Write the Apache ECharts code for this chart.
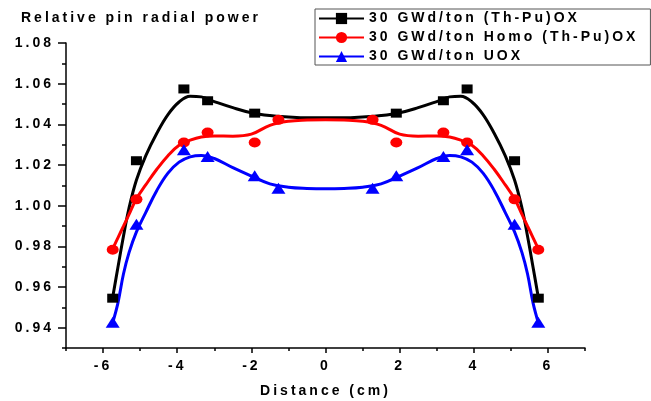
<!DOCTYPE html>
<html>
<head>
<meta charset="utf-8">
<title>Relative pin radial power</title>
<script src="https://cdn.jsdelivr.net/npm/echarts@6.0.0/dist/echarts.min.js"></script>
<style>
  html, body { margin: 0; padding: 0; background: #fff; }
  #main { width: 651px; height: 401px; }
</style>
</head>
<body>
<div id="main"></div>
<script>
// marker positions (cm) and values
const pinDistance = [-5.74, -5.10, -3.82, -3.18, -1.91, -1.27, 1.27, 1.91, 3.18, 3.82, 5.10, 5.74]
const thpuDistance = [-5.74, -5.10, -3.82, -3.18, -1.91, 1.91, 3.18, 3.82, 5.10, 5.74]
const thpuPower = [0.9545, 1.0221, 1.0574, 1.0516, 1.0455, 1.0455, 1.0516, 1.0574, 1.0221, 0.9545]
const homoPower = [0.9783, 1.0031, 1.0311, 1.0360, 1.0311, 1.0422, 1.0422, 1.0311, 1.0360, 1.0311, 1.0031, 0.9783]
const uoxPower = [0.9427, 0.9909, 1.0275, 1.0242, 1.0147, 1.0086, 1.0086, 1.0147, 1.0242, 1.0275, 0.9909, 0.9427]

// fitted curves
const curveDistance = [-5.74, -5.6, -5.45, -5.3, -5.1, -4.85, -4.55, -4.25, -3.95, -3.65, -3.35, -3.0, -2.5, -2.0, -1.5, -1.0, -0.5, 0,
  0.5, 1.0, 1.5, 2.0, 2.5, 3.0, 3.35, 3.65, 3.95, 4.25, 4.55, 4.85, 5.1, 5.3, 5.45, 5.6, 5.74]
const thpuCurve = [0.955, 0.9696, 0.985, 0.9988, 1.0126, 1.0245, 1.0356, 1.0448, 1.0510, 1.0538, 1.0535, 1.0512, 1.0482, 1.0457, 1.0443, 1.0436, 1.0432, 1.0432,
  1.0432, 1.0436, 1.0443, 1.0457, 1.0482, 1.0512, 1.0535, 1.0538, 1.0510, 1.0448, 1.0356, 1.0245, 1.0126, 0.9988, 0.985, 0.9696, 0.955]
const homoCurve = [0.9788, 0.9842, 0.9899, 0.9957, 1.0034, 1.0102, 1.0179, 1.0246, 1.0297, 1.0322, 1.0338, 1.0343, 1.0342, 1.0352, 1.0395, 1.0415, 1.0421, 1.0423,
  1.0421, 1.0415, 1.0395, 1.0352, 1.0342, 1.0343, 1.0338, 1.0322, 1.0297, 1.0246, 1.0179, 1.0102, 1.0034, 0.9957, 0.9899, 0.9842, 0.9788]
const uoxCurve = [0.9425, 0.9521, 0.9664, 0.9769, 0.9871, 0.9966, 1.0075, 1.0160, 1.0214, 1.0240, 1.0247, 1.0232, 1.0187, 1.0146, 1.0107, 1.0091, 1.0085, 1.0083,
  1.0085, 1.0091, 1.0107, 1.0146, 1.0187, 1.0232, 1.0247, 1.0240, 1.0214, 1.0160, 1.0075, 0.9966, 0.9871, 0.9769, 0.9664, 0.9521, 0.9425]

const seriesNames = ['30 GWd/ton (Th-Pu)OX', '30 GWd/ton Homo (Th-Pu)OX', '30 GWd/ton UOX']
const xMajorTicks = { min: -6, max: 6, step: 2 }
const yMajorTicks = { min: 0.94, max: 1.08, step: 0.02 }

// the original figure uses wide letter spacing on every text
const LETTER_SPACING = '3px'
;['fillText', 'strokeText', 'measureText'].forEach(fn => {
  const orig = CanvasRenderingContext2D.prototype[fn]
  CanvasRenderingContext2D.prototype[fn] = function (...args) {
    this.letterSpacing = LETTER_SPACING
    return orig.apply(this, args)
  }
})

const zip = (xs, ys) => xs.map((x, i) => [x, ys[i]])
const font = { fontFamily: 'Arial, "Liberation Sans", sans-serif', fontWeight: 'bold', fontSize: 14, color: '#000' }
const colors = ['#000000', '#ff0000', '#0000ff']
const symbols = ['rect', 'circle', 'triangle']
const symbolSizes = [[11, 9], [12, 10], [14, 11]]

// grid 0 holds the data and minor ticks, grid 1 only draws the labelled ticks
const W = 651
const gridLeft = 66
const gridRight = 66
const unitX = (W - gridLeft - gridRight) / 14
const gridTop = 43
const gridBottom = 53
const plotH = 401 - gridTop - gridBottom
const unitY = plotH / 0.15

const curves = [thpuCurve, homoCurve, uoxCurve]
const markers = [zip(thpuDistance, thpuPower), zip(pinDistance, homoPower), zip(pinDistance, uoxPower)]

const lineSeries = curves.map((c, i) => ({
  name: seriesNames[i],
  type: 'line',
  xAxisIndex: 0,
  yAxisIndex: 0,
  smooth: 0.4,
  showSymbol: false,
  symbol: symbols[i],
  symbolSize: symbolSizes[i],
  lineStyle: { width: 3, color: colors[i] },
  itemStyle: { color: colors[i] },
  data: zip(curveDistance, c),
  z: 2
}))

const markerSeries = markers.map((m, i) => ({
  name: seriesNames[i],
  type: 'scatter',
  xAxisIndex: 0,
  yAxisIndex: 0,
  symbol: symbols[i],
  symbolSize: symbolSizes[i],
  itemStyle: { color: colors[i], opacity: 1 },
  data: m,
  z: 3
}))

const chart = echarts.init(document.getElementById('main'))

const option = {
  animation: false,
  backgroundColor: '#fff',
  title: {
    text: 'Relative pin radial power',
    left: 21,
    top: 10,
    padding: 0,
    textStyle: font
  },
  legend: {
    data: seriesNames,
    orient: 'vertical',
    left: 315,
    top: 9,
    padding: [1, 12, 0, 3],
    itemGap: 2,
    itemWidth: 45,
    itemHeight: 14,
    selectedMode: false,
    borderColor: '#555',
    borderWidth: 1,
    textStyle: font
  },
  grid: [
    { left: gridLeft, right: gridRight, top: gridTop, bottom: gridBottom, outerBoundsMode: 'none' },
    {
      left: gridLeft + unitX,
      right: gridRight + unitX,
      top: gridTop,
      bottom: gridBottom + unitY * 0.01,
      outerBoundsMode: 'none'
    }
  ],
  xAxis: [
    {
      gridIndex: 0,
      type: 'value',
      min: -7,
      max: 7,
      interval: 1,
      name: 'Distance (cm)',
      nameLocation: 'middle',
      nameGap: 35,
      nameTextStyle: font,
      axisLine: { onZero: false, lineStyle: { color: '#000', width: 1.5 } },
      axisTick: { length: 3, lineStyle: { color: '#000', width: 1.5 } },
      axisLabel: { show: false },
      splitLine: { show: false }
    },
    {
      gridIndex: 1,
      type: 'value',
      min: xMajorTicks.min,
      max: xMajorTicks.max,
      interval: xMajorTicks.step,
      offset: unitY * 0.01,
      axisLine: { show: false, onZero: false },
      axisTick: { length: 5, lineStyle: { color: '#000', width: 1.5 } },
      axisLabel: Object.assign({ margin: 10 }, font),
      splitLine: { show: false }
    }
  ],
  yAxis: [
    {
      gridIndex: 0,
      type: 'value',
      min: 0.93,
      max: 1.08,
      interval: 0.01,
      axisLine: { show: true, onZero: false, lineStyle: { color: '#000', width: 1.5 } },
      axisTick: { length: 4, lineStyle: { color: '#000', width: 1.5 } },
      axisLabel: { show: false },
      splitLine: { show: false }
    },
    {
      gridIndex: 1,
      type: 'value',
      min: yMajorTicks.min,
      max: yMajorTicks.max,
      interval: yMajorTicks.step,
      offset: unitX,
      axisLine: { show: false, onZero: false },
      axisTick: { length: 8, lineStyle: { color: '#000', width: 1.5 } },
      axisLabel: Object.assign({ margin: 12, formatter: v => v.toFixed(2) }, font),
      splitLine: { show: false }
    }
  ],
  series: [...lineSeries, ...markerSeries]
}

chart.setOption(option)
</script>
</body>
</html>
